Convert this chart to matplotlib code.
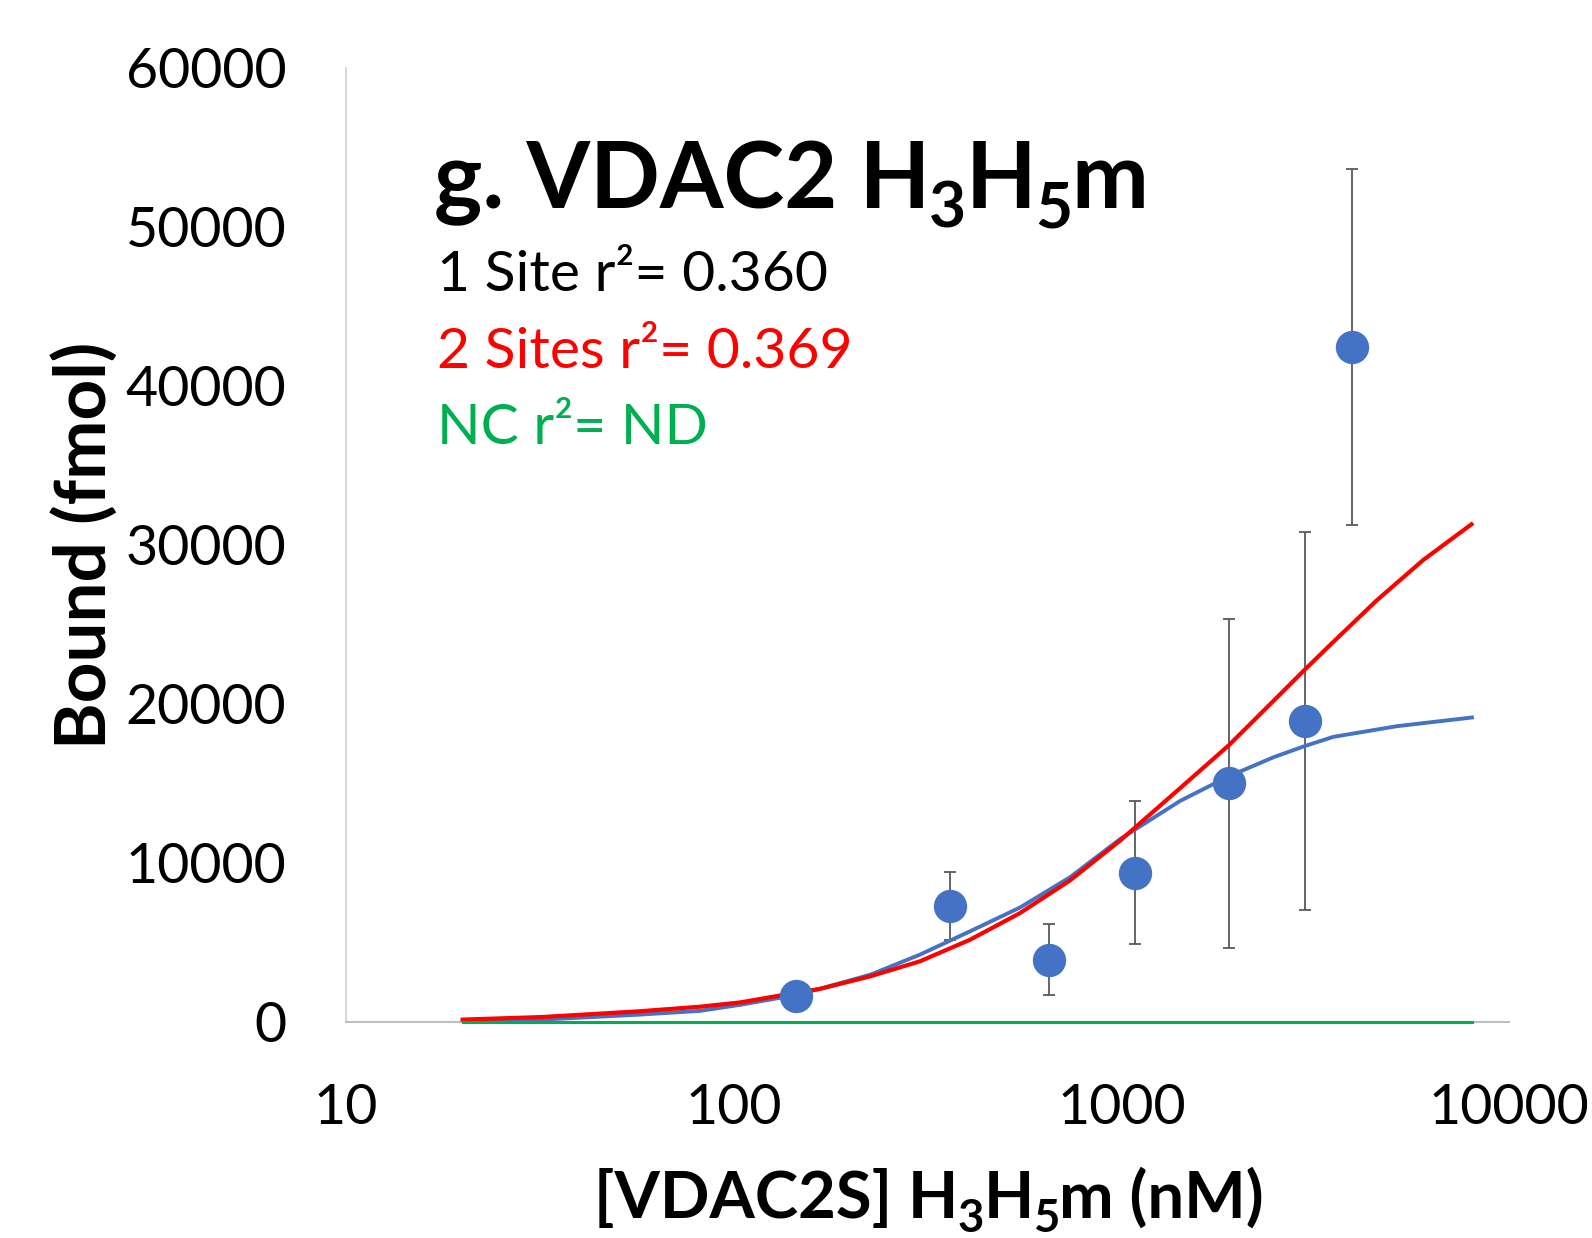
import matplotlib
matplotlib.use("Agg")
import matplotlib.pyplot as plt

plt.rcParams['font.family'] = ['Lato', 'DejaVu Sans']

# measured points (mean +/- error)
conc = [145, 361, 652, 1084, 1893, 2970, 3930]
bound = [1650, 7300, 3920, 9400, 15000, 18940, 42450]
bound_err = [0, 2160, 2230, 4480, 10350, 11870, 11220]

# one site fit
one_x = [20, 32, 57, 82, 104, 145, 167, 225, 302, 407, 548, 737, 992, 1417, 1893, 2470, 2970, 3520, 5130, 8020]
one_y = [40, 150, 460, 700, 1080, 1700, 2090, 2970, 4230, 5700, 7200, 9100, 11500, 13900, 15450, 16650, 17350, 17930, 18600, 19150]

# two sites fit
two_x = [20, 32, 57, 82, 104, 145, 167, 225, 302, 407, 548, 737, 992, 1417, 1893, 2565, 2970, 3452, 4550, 6010, 8000]
two_y = [150, 310, 670, 960, 1230, 1840, 2080, 2870, 3810, 5170, 6850, 8900, 11400, 14700, 17400, 20600, 22150, 23700, 26500, 29060, 31300]

# non competitive: flat at zero
nc_x = [20, 8020]
nc_y = [0, 0]

x_ticks = [10, 100, 1000, 10000]
y_ticks = [0, 10000, 20000, 30000, 40000, 50000, 60000]

BLUE = '#4472C4'
RED = '#FF0000'
GREEN = '#00B050'
GREY = '#595959'

W, H = 1592, 1238
fig = plt.figure(figsize=(W / 100, H / 100), dpi=100)
ax = fig.add_axes([0.2173, 0.1745, 0.7306, 0.7706])
renderer = fig.canvas.get_renderer()


def sub_text(x_px, y_px, parts, size, ha='left'):
    # parts: list of (text, is_subscript); y_px is the baseline, from the bottom
    sub_size = size * 0.7
    cap = size * 100 / 72 * 0.7165
    gap = -size * 100 / 72 * 0.01
    widths = []
    for s, is_sub in parts:
        t = fig.text(0, 0, s, fontsize=sub_size if is_sub else size, fontweight='bold')
        widths.append(t.get_window_extent(renderer).width)
        t.remove()
    total = sum(widths) + gap * (len(parts) - 1)
    x = x_px - total / 2 if ha == 'center' else x_px
    for (s, is_sub), w in zip(parts, widths):
        y = y_px - 0.3 * cap if is_sub else y_px
        fig.text(x / W, y / H, s, fontsize=sub_size if is_sub else size,
                 fontweight='bold', va='baseline')
        x += w + gap


ax.errorbar(conc, bound, yerr=bound_err, fmt='none', ecolor=GREY,
            elinewidth=1.3, capsize=4.3, capthick=1.3, zorder=2)
ax.plot(one_x, one_y, color=BLUE, lw=2.8, zorder=3, solid_joinstyle='round')
ax.plot(two_x, two_y, color=RED, lw=3.0, zorder=3, solid_joinstyle='round')
ax.plot(nc_x, nc_y, color=GREEN, lw=2.2, zorder=3, clip_on=False)
ax.plot(conc, bound, 'o', color=BLUE, ms=24, mec='none', zorder=4)

ax.set_xscale('log')
ax.set_xlim(10, 10000)
ax.set_ylim(0, 60000)
ax.set_xticks(x_ticks)
ax.set_xticklabels([str(t) for t in x_ticks])
ax.minorticks_off()
ax.set_yticks(y_ticks)
ax.set_yticklabels([str(t) for t in y_ticks])
ax.tick_params(axis='both', length=0, labelsize=40)
ax.tick_params(axis='y', pad=43)
ax.tick_params(axis='x', pad=44)

for s in ['top', 'right']:
    ax.spines[s].set_visible(False)
ax.spines['left'].set_color('#D0D0D0')
ax.spines['bottom'].set_color('#BFBFBF')
ax.spines['left'].set_linewidth(1.2)
ax.spines['bottom'].set_linewidth(1.5)

ax.set_ylabel('Bound (fmol)', fontsize=51, fontweight='bold')
ax.yaxis.set_label_coords(-0.225, 0.5)
ax.yaxis.label.set_va('center')

# x label and title with real subscripts
sub_text(929, 20, [('[VDAC2S] H', False), ('3', True), ('H', False), ('5', True),
                   ('m (nM)', False)], 47, ha='center')
sub_text(434, H - 208, [('g. VDAC2 H', False), ('3', True), ('H', False), ('5', True),
                        ('m', False)], 66)

ax.text(0.078, 0.766, '1 Site r²= 0.360', transform=ax.transAxes,
        fontsize=41, color='black', va='baseline')
ax.text(0.078, 0.6855, '2 Sites r²= 0.369', transform=ax.transAxes,
        fontsize=41, color=RED, va='baseline')
ax.text(0.078, 0.606, 'NC r²= ND', transform=ax.transAxes,
        fontsize=41, color=GREEN, va='baseline')

fig.savefig('out.png', dpi=100)
